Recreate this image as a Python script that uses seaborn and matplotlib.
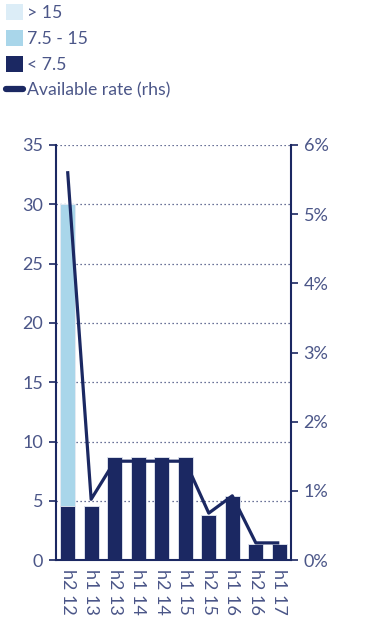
import numpy as np
import pandas as pd
import seaborn as sns
import matplotlib.pyplot as plt
from matplotlib.patches import Patch
from matplotlib.lines import Line2D
from matplotlib.ticker import FuncFormatter, FixedLocator

sns.set_theme(style="white")
plt.rcParams['font.family'] = ['Lato', 'DejaVu Sans']

# data
periods = ['h2 12', 'h1 13', 'h2 13', 'h1 14', 'h2 14', 'h1 15', 'h2 15', 'h1 16', 'h2 16', 'h1 17']
above_15 = [0, 0, 0, 0, 0, 0, 0, 0, 0, 0]
mid_7_15 = [25.4, 0, 0, 0, 0, 0, 0, 0, 0, 0]
below_7_5 = [4.6, 4.6, 8.7, 8.7, 8.7, 8.7, 3.8, 5.4, 1.4, 1.4]
avail_rate = [5.62, 0.88, 1.43, 1.43, 1.43, 1.43, 0.68, 0.93, 0.25, 0.25]

navy = '#1b2862'
mid_blue = '#a9d6ea'
light_blue = '#dcedf7'
txt = '#4b5688'

df = pd.DataFrame({'period': periods, 'low': below_7_5, 'mid': mid_7_15, 'high': above_15})
df['tot_mid'] = df['low'] + df['mid']
df['tot_high'] = df['tot_mid'] + df['high']

fig = plt.figure(figsize=(3.8, 6.19), dpi=100)
ax = fig.add_axes([0.147, 0.095, 0.619, 0.671])

for col, c in [('tot_high', light_blue), ('tot_mid', mid_blue), ('low', navy)]:
    sns.barplot(data=df, x='period', y=col, color=c, width=0.64,
                edgecolor='#e8ecf4', linewidth=0.6, saturation=1, ax=ax)

ax.set_ylim(0, 35)
ax.set_xlim(-0.5, 9.5)
ax.set_yticks(np.arange(0, 36, 5))
for v in range(5, 36, 5):
    ax.axhline(v, color='#3a4577', linestyle=(0, (1, 2.2)), linewidth=0.9, zorder=0.5)
ax.set_xlabel('')
ax.set_ylabel('')

ax2 = ax.twinx()
sns.lineplot(x=np.arange(len(periods)), y=avail_rate, color=navy, linewidth=2.3,
             solid_capstyle='butt', ax=ax2)
ax2.set_ylim(0, 6)
ax2.yaxis.set_major_formatter(FuncFormatter(lambda v, p: f'{v:.0f}%'))
ax2.set_yticks(np.arange(0, 7, 1))

# x ticks sit between bars, labels under bars
ax.xaxis.set_major_locator(FixedLocator(np.arange(-0.5, 9.6, 1)))
ax.xaxis.set_minor_locator(FixedLocator(np.arange(0, 10)))
ax.set_xticklabels([''] * 11)
ax.set_xticklabels(periods, minor=True, rotation=-90, va='top', ha='center')
ax.tick_params(axis='x', which='major', direction='out', length=5, width=1.2, color=navy)
ax.tick_params(axis='x', which='minor', length=0, pad=6, labelsize=13, labelcolor=txt)
ax.tick_params(axis='y', direction='out', length=5, width=1.2, color=navy,
               labelsize=13, labelcolor=txt, pad=4)
ax2.tick_params(axis='y', direction='out', length=5, width=1.2, color=navy,
                labelsize=13, labelcolor=txt, pad=4)

for a in (ax, ax2):
    a.spines['top'].set_visible(False)
    for s in ('left', 'right', 'bottom'):
        a.spines[s].set_color(navy)
        a.spines[s].set_linewidth(1.5)
ax.spines['right'].set_visible(False)
ax2.spines['left'].set_visible(False)
ax2.spines['bottom'].set_visible(False)

handles = [Patch(facecolor=light_blue, edgecolor='none', label='> 15'),
           Patch(facecolor=mid_blue, edgecolor='none', label='7.5 - 15'),
           Patch(facecolor=navy, edgecolor='none', label='< 7.5'),
           Line2D([0], [0], color=navy, linewidth=4.5, solid_capstyle='round',
                  label='Available rate (rhs)')]
leg = fig.legend(handles=handles, loc='upper left', bbox_to_anchor=(-0.012, 1.01),
                 frameon=False, fontsize=12.7, handlelength=0.95, handleheight=1.0,
                 handletextpad=0.25, labelspacing=0.5, borderaxespad=0.2)
for t in leg.get_texts():
    t.set_color(txt)

fig.savefig('out.png', dpi=100)
